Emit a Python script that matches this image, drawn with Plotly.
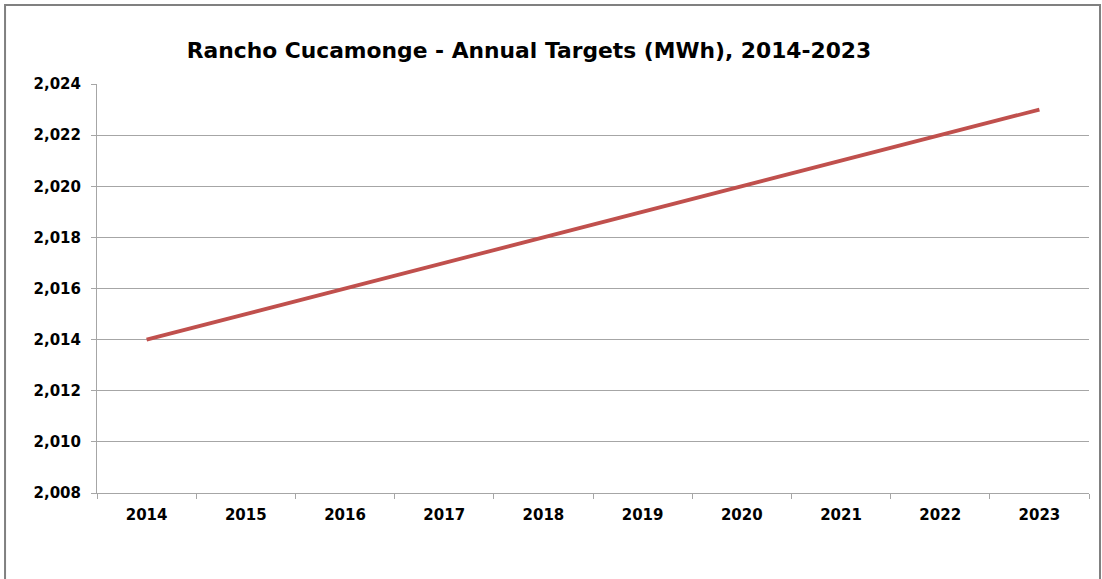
import plotly.graph_objects as go

years = ["2014", "2015", "2016", "2017", "2018", "2019", "2020", "2021", "2022", "2023"]
targets = [2014, 2015, 2016, 2017, 2018, 2019, 2020, 2021, 2022, 2023]
y_ticks = [2008, 2010, 2012, 2014, 2016, 2018, 2020, 2022, 2024]

GRID = "#a6a6a6"
FONT = "DejaVu Sans"

fig = go.Figure()

fig.add_trace(go.Scatter(
    x=years,
    y=targets,
    mode="lines",
    line=dict(color="#c0504d", width=3.8),
    showlegend=False,
    hoverinfo="x+y",
))

# chart frame (Excel style border around whole chart)
fig.add_shape(
    type="rect", xref="paper", yref="paper",
    x0=-0.0927, x1=1.0111, y0=-0.4, y1=1.193,
    line=dict(color="#808080", width=2),
    layer="below",
)

tick_font = dict(family=FONT, size=15, color="black", weight="bold")

fig.update_layout(
    width=1102,
    height=579,
    margin=dict(l=97, r=13, t=84, b=86),
    paper_bgcolor="white",
    plot_bgcolor="white",
    font=dict(family=FONT, size=15, color="black"),
    title=dict(
        text="<b>Rancho Cucamonge - Annual Targets (MWh), 2014-2023</b>",
        x=0.48, xanchor="center",
        y=0.913, yref="container", yanchor="middle",
        font=dict(family=FONT, size=21.8, color="black"),
    ),
    xaxis=dict(
        type="category",
        range=[-0.5, 9.5],
        tickson="boundaries",
        ticks="outside",
        ticklen=5,
        tickcolor=GRID,
        showgrid=False,
        showline=True,
        linecolor=GRID,
        linewidth=1,
        tickfont=tick_font,
        ticklabelstandoff=8,
    ),
    yaxis=dict(
        range=[2008, 2024],
        tickvals=y_ticks,
        tickformat=",d",
        ticks="outside",
        ticklen=5,
        tickcolor=GRID,
        showgrid=True,
        gridcolor=GRID,
        gridwidth=1,
        showline=True,
        linecolor=GRID,
        linewidth=1,
        zeroline=False,
        tickfont=tick_font,
        ticklabelstandoff=7,
    ),
)

fig.write_html("out.html", config={"displayModeBar": False})

# drop the default page margin so the figure sits at the window origin
with open("out.html", encoding="utf-8") as f:
    html = f.read()
html = html.replace("<body>", '<body style="margin:0">', 1)
with open("out.html", "w", encoding="utf-8") as f:
    f.write(html)
